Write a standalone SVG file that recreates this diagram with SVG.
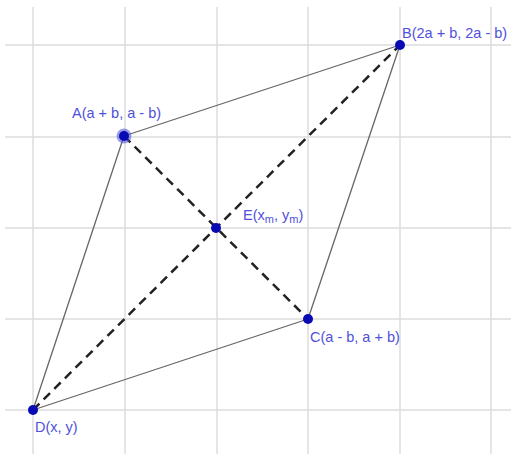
<svg xmlns="http://www.w3.org/2000/svg" width="511" height="454" viewBox="0 0 511 454">
<style>
.grid line{stroke:#dcdcdc;stroke-width:1.5}
.side{stroke:#666;stroke-width:1.3;fill:none}
.diag{stroke:#222;stroke-width:2.5;stroke-dasharray:9 6;fill:none}
.pt{fill:#0a0ab4}
.lbl{font-family:"Liberation Sans",Arial,sans-serif;font-size:14.5px;fill:#5050dc}
.sub{font-size:11px}
</style>
<rect width="511" height="454" fill="#fff"/>
<g class="grid">
<line x1="33" y1="7" x2="33" y2="454"/>
<line x1="125" y1="7" x2="125" y2="454"/>
<line x1="217" y1="7" x2="217" y2="454"/>
<line x1="308" y1="7" x2="308" y2="454"/>
<line x1="400" y1="7" x2="400" y2="454"/>
<line x1="491" y1="7" x2="491" y2="454"/>
<line x1="5" y1="45" x2="511" y2="45"/>
<line x1="5" y1="137" x2="511" y2="137"/>
<line x1="5" y1="228" x2="511" y2="228"/>
<line x1="5" y1="319" x2="511" y2="319"/>
<line x1="5" y1="410" x2="511" y2="410"/>
</g>
<g id="connectors">
<line class="side" x1="124" y1="136" x2="400" y2="45"/>
<line class="side" x1="400" y1="45" x2="308" y2="319"/>
<line class="side" x1="308" y1="319" x2="33" y2="410"/>
<line class="side" x1="33" y1="410" x2="124" y2="136"/>
<line class="diag" x1="124" y1="136" x2="308" y2="319"/>
<line class="diag" x1="33" y1="410" x2="400" y2="45"/>
</g>
<g id="A">
<circle cx="124" cy="136" r="7.5" fill="#4a4ad8" opacity="0.55"/>
<circle class="pt" cx="124" cy="136" r="5"/>
<text class="lbl" x="72" y="118">A(a + b, a - b)</text>
</g>
<g id="B">
<circle class="pt" cx="400" cy="45" r="5"/>
<text class="lbl" x="402" y="38">B(2a + b, 2a - b)</text>
</g>
<g id="E">
<circle class="pt" cx="216" cy="228" r="5"/>
<text class="lbl" x="243" y="220">E(x<tspan class="sub" dy="3">m</tspan><tspan dy="-3">, y</tspan><tspan class="sub" dy="3">m</tspan><tspan dy="-3">)</tspan></text>
</g>
<g id="C">
<circle class="pt" cx="308" cy="319" r="5"/>
<text class="lbl" x="310" y="342">C(a - b, a + b)</text>
</g>
<g id="D">
<circle class="pt" cx="33" cy="410" r="5"/>
<text class="lbl" x="35" y="432">D(x, y)</text>
</g>
</svg>
